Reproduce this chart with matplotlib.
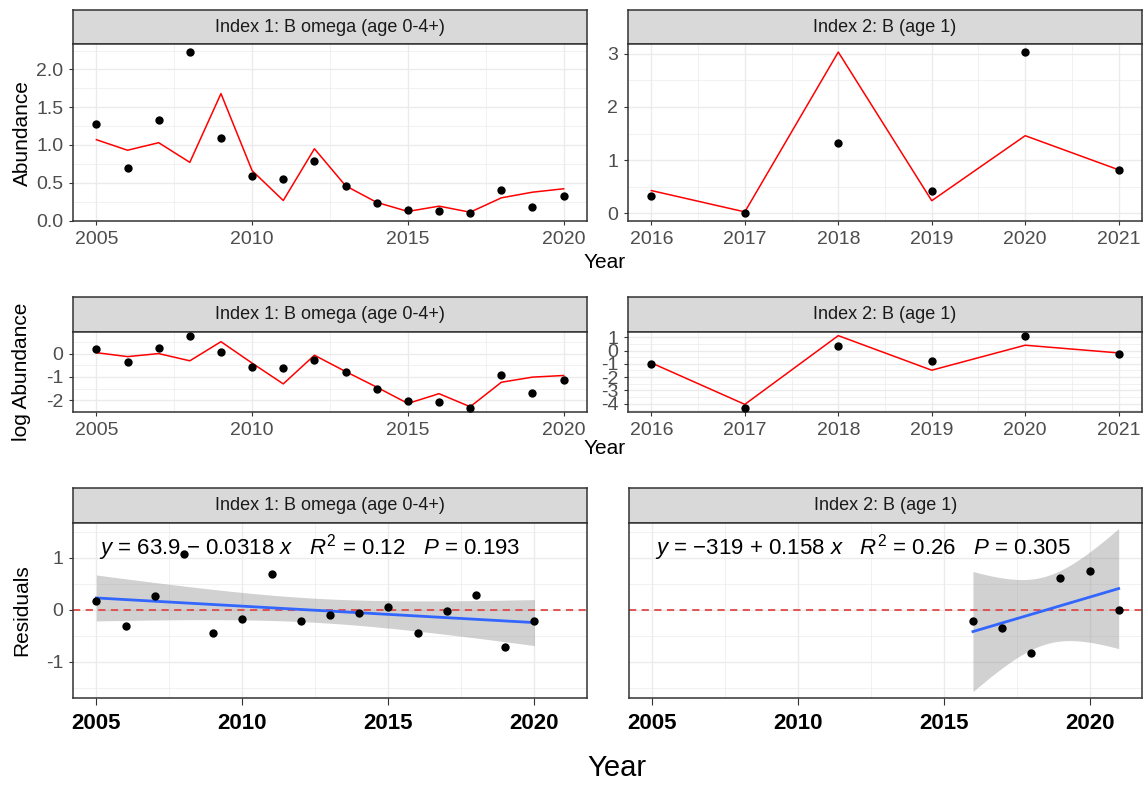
import numpy as np
import matplotlib
matplotlib.use("Agg")
from matplotlib import pyplot as plt
from matplotlib.ticker import MultipleLocator

plt.rcParams['font.family'] = ['Liberation Sans', 'DejaVu Sans']
plt.rcParams['axes.unicode_minus'] = False
plt.rcParams['mathtext.fontset'] = 'custom'
plt.rcParams['mathtext.rm'] = 'Liberation Sans'
plt.rcParams['mathtext.it'] = 'Liberation Sans:italic'

# ---------------- data ----------------
judul_1 = 'Index 1: B omega (age 0-4+)'
judul_2 = 'Index 2: B (age 1)'

tahun_1 = [2005, 2006, 2007, 2008, 2009, 2010, 2011, 2012,
           2013, 2014, 2015, 2016, 2017, 2018, 2019, 2020]
tahun_2 = [2016, 2017, 2018, 2019, 2020, 2021]

# Abundance (observasi & prediksi)
obs_1 = [1.28, 0.69, 1.33, 2.23, 1.09, 0.59, 0.55, 0.79,
         0.46, 0.23, 0.14, 0.12, 0.10, 0.40, 0.18, 0.33]
pred_1 = [1.07, 0.93, 1.03, 0.77, 1.68, 0.66, 0.265, 0.95,
          0.46, 0.24, 0.12, 0.19, 0.11, 0.30, 0.375, 0.42]
obs_2 = [0.33, 0.01, 1.32, 0.43, 3.03, 0.82]
pred_2 = [0.43, 0.03, 3.03, 0.24, 1.46, 0.82]

# log Abundance
logobs_1 = [0.18, -0.38, 0.25, 0.77, 0.07, -0.56, -0.63, -0.27,
            -0.80, -1.51, -2.04, -2.07, -2.35, -0.94, -1.68, -1.13]
logpred_1 = [0.04, -0.13, 0.0, -0.31, 0.51, -0.41, -1.30, -0.07,
             -0.77, -1.44, -2.14, -1.72, -2.28, -1.23, -1.01, -0.94]
logobs_2 = [-1.0, -4.35, 0.32, -0.8, 1.12, -0.25]
logpred_2 = [-0.93, -4.05, 1.12, -1.48, 0.40, -0.18]

# Residuals
resid_1 = [0.16, -0.32, 0.26, 1.08, -0.44, -0.17, 0.69, -0.21,
           -0.10, -0.06, 0.06, -0.44, -0.03, 0.28, -0.72, -0.21]
resid_2 = [-0.21, -0.35, -0.84, 0.61, 0.75, 0.0]

teks_eq_1 = r'$y$ = 63.9 $-$ 0.0318 $x$   $R^2$ = 0.12   $P$ = 0.193'
teks_eq_2 = r'$y$ = $-$319 + 0.158 $x$   $R^2$ = 0.26   $P$ = 0.305'

# nilai t 95% (df = n-2)
t_1 = 2.145
t_2 = 2.776

# ---------------- layout ----------------
W, H = 1148, 787
fig = plt.figure(figsize=(W / 100, H / 100), dpi=100)


def kotak(x0, y0, x1, y1):
    return [x0 / W, 1 - y1 / H, (x1 - x0) / W, (y1 - y0) / H]


def buat_strip(x0, x1, y0, y1, judul):
    s = fig.add_axes(kotak(x0, y0, x1, y1))
    s.set_facecolor('#D9D9D9')
    s.set_xticks([])
    s.set_yticks([])
    for sp in s.spines.values():
        sp.set_color('#333333')
        sp.set_linewidth(1.1)
    s.text(0.5, 0.5, judul, ha='center', va='center', fontsize=13,
           color='#1A1A1A', transform=s.transAxes)
    return s


def buat_panel(x0, x1, y0, y1):
    ax = fig.add_axes(kotak(x0, y0, x1, y1))
    ax.set_facecolor('white')
    for sp in ax.spines.values():
        sp.set_color('#333333')
        sp.set_linewidth(1.1)
    ax.grid(True, which='major', color='#EBEBEB', linewidth=1.0, zorder=0)
    ax.grid(True, which='minor', color='#EBEBEB', linewidth=0.5, zorder=0)
    ax.set_axisbelow(True)
    ax.tick_params(which='major', length=3, width=0.8, color='#333333',
                   labelcolor='#4D4D4D', labelsize=14, pad=4)
    ax.tick_params(which='minor', length=0)
    return ax


def garis_regresi(x, y, t):
    x = np.array(x, dtype=float)
    y = np.array(y, dtype=float)
    b, a = np.polyfit(x, y, 1)
    n = len(x)
    sisa = y - (a + b * x)
    s = np.sqrt(np.sum(sisa ** 2) / (n - 2))
    sxx = np.sum((x - x.mean()) ** 2)
    xs = np.linspace(x.min(), x.max(), 80)
    yh = a + b * xs
    se = s * np.sqrt(1.0 / n + (xs - x.mean()) ** 2 / sxx)
    return xs, yh, yh - t * se, yh + t * se


kiri = (73, 587)
kanan = (628, 1142)

# ---- baris 1: Abundance ----
buat_strip(kiri[0], kiri[1], 10, 44, judul_1)
buat_strip(kanan[0], kanan[1], 10, 44, judul_2)
ax = buat_panel(kiri[0], kiri[1], 44, 221)
ax.plot(tahun_1, pred_1, color='red', linewidth=1.1, zorder=2)
ax.scatter(tahun_1, obs_1, s=36, color='black', zorder=3, linewidths=0)
ax.xaxis.set_major_locator(MultipleLocator(5))
ax.xaxis.set_minor_locator(MultipleLocator(2.5))
ax.yaxis.set_major_locator(MultipleLocator(0.5))
ax.yaxis.set_minor_locator(MultipleLocator(0.25))
ax.yaxis.set_major_formatter(matplotlib.ticker.FormatStrFormatter('%.1f'))

ax = buat_panel(kanan[0], kanan[1], 44, 221)
ax.plot(tahun_2, pred_2, color='red', linewidth=1.1, zorder=2)
ax.scatter(tahun_2, obs_2, s=36, color='black', zorder=3, linewidths=0)
ax.xaxis.set_major_locator(MultipleLocator(1))
ax.xaxis.set_minor_locator(MultipleLocator(0.5))
ax.yaxis.set_major_locator(MultipleLocator(1))
ax.yaxis.set_minor_locator(MultipleLocator(0.5))

# ---- baris 2: log Abundance ----
buat_strip(kiri[0], kiri[1], 297, 332, judul_1)
buat_strip(kanan[0], kanan[1], 297, 332, judul_2)
ax = buat_panel(kiri[0], kiri[1], 332, 412)
ax.plot(tahun_1, logpred_1, color='red', linewidth=1.1, zorder=2)
ax.scatter(tahun_1, logobs_1, s=36, color='black', zorder=3, linewidths=0)
ax.xaxis.set_major_locator(MultipleLocator(5))
ax.xaxis.set_minor_locator(MultipleLocator(2.5))
ax.yaxis.set_major_locator(MultipleLocator(1))
ax.yaxis.set_minor_locator(MultipleLocator(0.5))

ax = buat_panel(kanan[0], kanan[1], 332, 412)
ax.plot(tahun_2, logpred_2, color='red', linewidth=1.1, zorder=2)
ax.scatter(tahun_2, logobs_2, s=36, color='black', zorder=3, linewidths=0)
ax.xaxis.set_major_locator(MultipleLocator(1))
ax.xaxis.set_minor_locator(MultipleLocator(0.5))
ax.yaxis.set_major_locator(MultipleLocator(1))
ax.yaxis.set_minor_locator(MultipleLocator(0.5))

# ---- baris 3: Residuals ----
buat_strip(kiri[0], kiri[1], 488, 523, judul_1)
buat_strip(629, kanan[1], 488, 523, judul_2)
panel_res = [(buat_panel(kiri[0], kiri[1], 523, 698), tahun_1, resid_1, t_1, teks_eq_1),
             (buat_panel(629, kanan[1], 523, 698), tahun_2, resid_2, t_2, teks_eq_2)]
for i, (ax, xx, yy, tt, teks) in enumerate(panel_res):
    xs, yh, lo, hi = garis_regresi(xx, yy, tt)
    ax.fill_between(xs, lo, hi, color='#999999', alpha=0.45, linewidth=0, zorder=1)
    ax.axhline(0, color='#E04848', linestyle=(0, (4, 3)), linewidth=1.3, zorder=2)
    ax.plot(xs, yh, color='#3366FF', linewidth=2.0, zorder=3)
    ax.scatter(xx, yy, s=36, color='black', zorder=4, linewidths=0)
    ax.set_xlim(2004.2, 2021.8)
    ax.set_ylim(-1.70, 1.67)
    ax.xaxis.set_minor_locator(MultipleLocator(2.5))
    ax.yaxis.set_major_locator(MultipleLocator(1))
    ax.yaxis.set_minor_locator(MultipleLocator(0.5))
    ax.set_xticks([2005, 2010, 2015, 2020])
    ax.set_xticklabels(['2005', '2010', '2015', '2020'], fontweight='bold',
                       color='black', fontsize=16)
    ax.tick_params(axis='x', length=5, pad=6)
    if i == 1:
        ax.tick_params(axis='y', which='both', left=False, labelleft=False)
    ax.text(0.05, 0.857, teks, transform=ax.transAxes, ha='left', va='center',
            fontsize=16, color='black')

# ---- label sumbu ----
fig.text(22 / W, 1 - 133 / H, 'Abundance', rotation=90, ha='center', va='center',
         fontsize=15, color='black')
fig.text(22 / W, 1 - 372 / H, 'log Abundance', rotation=90, ha='center', va='center',
         fontsize=15, color='black')
fig.text(22 / W, 1 - 610 / H, 'Residuals', rotation=90, ha='center', va='center',
         fontsize=15, color='black')
fig.text(584 / W, 1 - 263 / H, 'Year', ha='left', va='center', fontsize=15, color='black')
fig.text(584 / W, 1 - 449 / H, 'Year', ha='left', va='center', fontsize=15, color='black')
fig.text(617 / W, 1 - 768 / H, 'Year', ha='center', va='center', fontsize=21, color='black')

fig.savefig('out.png', dpi=100)
